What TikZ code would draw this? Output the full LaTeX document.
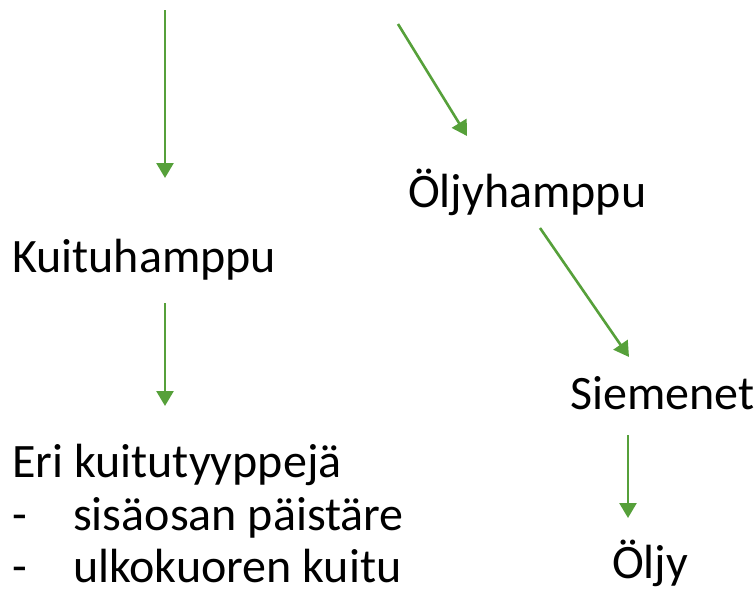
\documentclass[tikz,border=0pt]{standalone}
\usepackage{fontspec}
\setmainfont{Carlito}
\usetikzlibrary{arrows.meta}
\definecolor{leafgreen}{RGB}{86,160,58}

\begin{document}
\begin{tikzpicture}[x=1pt,y=-1pt]
        \tikzstyle{every node}+=[inner sep=0pt, anchor=base west, font=\fontsize{48}{58}\selectfont]
        \tikzstyle{arr}=[leafgreen, line width=2.6pt, -{Triangle[length=15pt,width=17pt]}]
        \useasboundingbox (0,0) rectangle (756,592);
        % labels
        \node (oljyh) at (408,207) {Öljyhamppu};
        \node (kuitu) at (12,272) {Kuituhamppu};
        \node (siem) at (570,409) {Siemenet};
        \node (eri) at (12,477) {Eri kuitutyyppejä};
        \node (dash1) at (12,530) {-};
        \node (sisa) at (73,530) {sisäosan päistäre};
        \node (dash2) at (12,582) {-};
        \node (ulko) at (73,582) {ulkokuoren kuitu};
        \node (oljy) at (612,578) {Öljy};
        % arrow ends
        \coordinate (a1) at (165,10);
        \coordinate (b1) at (165,178);
        \coordinate (a2) at (398,24);
        \coordinate (b2) at (467,136);
        \coordinate (a3) at (165,303);
        \coordinate (b3) at (165,406);
        \coordinate (a4) at (540,228);
        \coordinate (b4) at (629,357);
        \coordinate (a5) at (628,435);
        \coordinate (b5) at (628,518);
        \draw [arr] (a1) -- (b1);
        \draw [arr] (a2) -- (b2);
        \draw [arr] (a3) -- (b3);
        \draw [arr] (a4) -- (b4);
        \draw [arr] (a5) -- (b5);
\end{tikzpicture}
\end{document}
